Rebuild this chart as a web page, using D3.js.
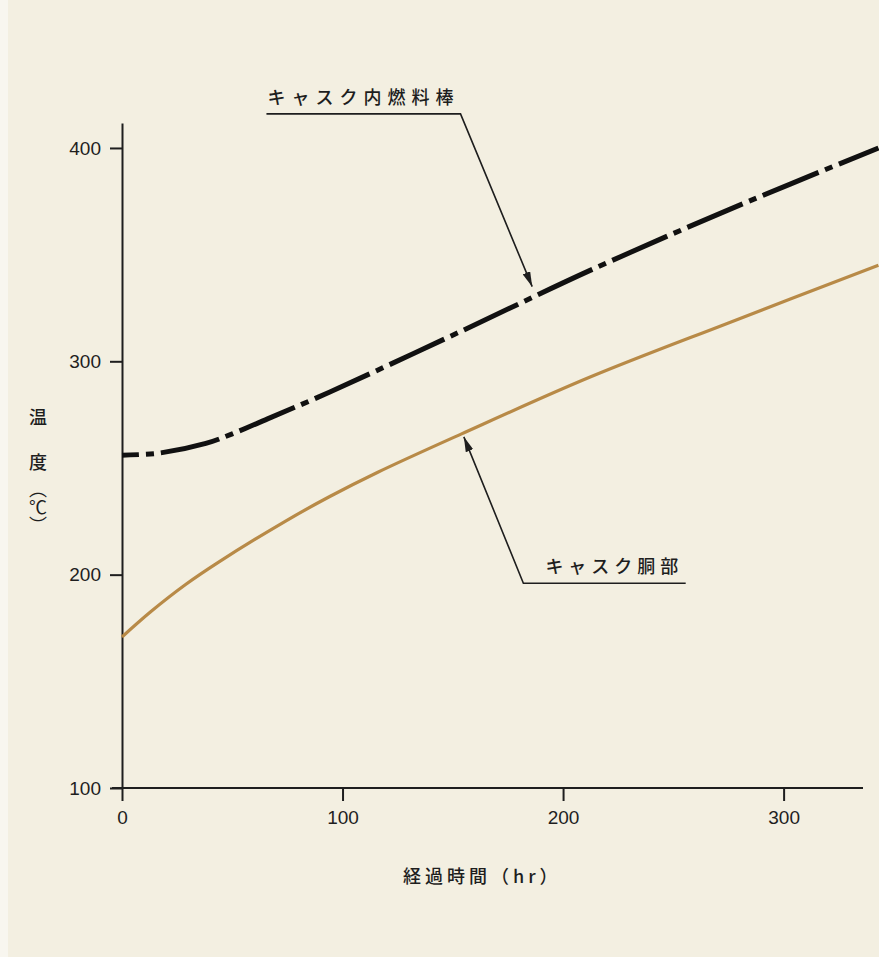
<!DOCTYPE html>
<html><head><meta charset="utf-8">
<script src="https://cdn.jsdelivr.net/npm/d3@7/dist/d3.min.js"></script>
<style>
html,body{margin:0;padding:0;background:#f3efe2;}
svg{display:block;}
</style></head>
<body>
<svg id="chart" width="879" height="957"></svg>
<script>
// ---- data ----
const fuelTime = [0, 17, 38, 50, 66, 94, 154, 212, 275, 343];
const fuelTemp = [256, 257, 261.5, 266, 273, 285.5, 314.2, 342.5, 371, 400];
const caskTime = [0, 13, 29, 44, 74, 94, 116, 154, 212, 275, 343];
const caskTemp = [170.8, 182.6, 195.5, 206, 225, 236.5, 248, 266, 292.5, 318, 345];
const xTicks = [0, 100, 200, 300];
const yTicks = [100, 200, 300, 400];
const fuelLabel = "キャスク内燃料棒";
const caskLabel = "キャスク胴部";
const xTitle = "経過時間（hr）";
const yTitleChars = ["温", "度"];
const yTitleUnit = "（℃）";
// annotation anchors in data units: [time, temp]
const fuelArrowTip = [186, 335];
const fuelElbow = [153.5, 416];
const fuelLineStart = [65.5, 416];
const caskArrowTip = [155, 264.6];
const caskElbow = [182, 196];
const caskLineEnd = [255.6, 196];

const svg = d3.select("#chart");
const x = d3.scaleLinear().domain([0, 336]).range([122, 863]);
const y = d3.scaleLinear().domain([100, 411.7]).range([788, 123]);
const ink = "#1e1e1e";

svg.append("rect").attr("width", 879).attr("height", 957).attr("fill", "#f3efe1");
svg.append("rect").attr("width", 8).attr("height", 957).attr("fill", "#f8f6ef");

// axes
const gx = svg.append("g").attr("transform", `translate(0,${y(100)})`)
  .call(d3.axisBottom(x).tickValues(xTicks).tickSize(13).tickSizeOuter(0).tickPadding(10));
const gy = svg.append("g").attr("transform", `translate(${x(0)},0)`)
  .call(d3.axisLeft(y).tickValues(yTicks).tickSize(12).tickSizeOuter(0).tickPadding(9));
[gx, gy].forEach(g => {
  g.selectAll("path.domain").attr("stroke", ink).attr("stroke-width", 2);
  g.selectAll(".tick line").attr("stroke", ink).attr("stroke-width", 2);
  g.selectAll(".tick text").attr("fill", ink)
    .style("font-family", "'Liberation Sans', Arial, sans-serif").style("font-size", "19px");
});
gx.select("path.domain").attr("d", `M${x(0) - 10},0H${x(336)}`);

// lines
const line = d3.line().x(d => x(d[0])).y(d => y(d[1])).curve(d3.curveCatmullRom.alpha(0.5));
svg.append("path").datum(caskTime.map((t, i) => [t, caskTemp[i]]))
  .attr("d", line).attr("fill", "none").attr("stroke", "#b88a47").attr("stroke-width", 3.2);
svg.append("path").datum(fuelTime.map((t, i) => [t, fuelTemp[i]]))
  .attr("d", line).attr("fill", "none").attr("stroke", "#111").attr("stroke-width", 5)
  .attr("stroke-dasharray", "60,7,8,7").attr("stroke-dashoffset", 43);

// arrowheads
const defs = svg.append("defs");
defs.append("marker").attr("id", "arr").attr("viewBox", "0 0 15 8").attr("refX", 15).attr("refY", 4)
  .attr("markerWidth", 15).attr("markerHeight", 8).attr("markerUnits", "userSpaceOnUse")
  .attr("orient", "auto")
  .append("path").attr("d", "M0,0L15,4L0,8Z").attr("fill", ink);

const P = p => [x(p[0]), y(p[1])];
const font = "'Noto Sans CJK JP', sans-serif";

// fuel annotation
svg.append("path").attr("d", d3.line()([P(fuelLineStart), P(fuelElbow), P(fuelArrowTip)]))
  .attr("fill", "none").attr("stroke", ink).attr("stroke-width", 1.6).attr("marker-end", "url(#arr)");
svg.append("text").attr("x", x(fuelLineStart[0]) + 1).attr("y", y(fuelLineStart[1]) - 18)
  .attr("dominant-baseline", "central").attr("fill", ink)
  .style("font-family", font).style("font-size", "18px").style("font-weight", 500)
  .style("letter-spacing", "6px").text(fuelLabel);

// cask annotation
svg.append("path").attr("d", d3.line()([P(caskLineEnd), P(caskElbow), P(caskArrowTip)]))
  .attr("fill", "none").attr("stroke", ink).attr("stroke-width", 1.6).attr("marker-end", "url(#arr)");
svg.append("text").attr("x", x(caskElbow[0]) + 22).attr("y", y(caskElbow[1]) - 18)
  .attr("dominant-baseline", "central").attr("fill", ink)
  .style("font-family", font).style("font-size", "18px").style("font-weight", 500)
  .style("letter-spacing", "5px").text(caskLabel);

// axis titles
svg.append("text").attr("x", 403).attr("y", 875).attr("dominant-baseline", "central").attr("fill", ink)
  .style("font-family", font).style("font-size", "18px").style("font-weight", 500)
  .style("letter-spacing", "4px").text(xTitle);
const yPos = [416, 461];
svg.selectAll("text.yt").data(yTitleChars).join("text").attr("class", "yt")
  .attr("x", 38).attr("y", (d, i) => yPos[i]).attr("text-anchor", "middle")
  .attr("dominant-baseline", "central").attr("fill", ink)
  .style("font-family", font).style("font-size", "18px").style("font-weight", 500).text(d => d);
svg.append("text").attr("x", 38).attr("y", 480).attr("fill", ink)
  .style("writing-mode", "vertical-rl").style("text-orientation", "mixed")
  .style("font-family", font).style("font-size", "18px").style("font-weight", 400)
  .text(yTitleUnit);
</script>
</body></html>
